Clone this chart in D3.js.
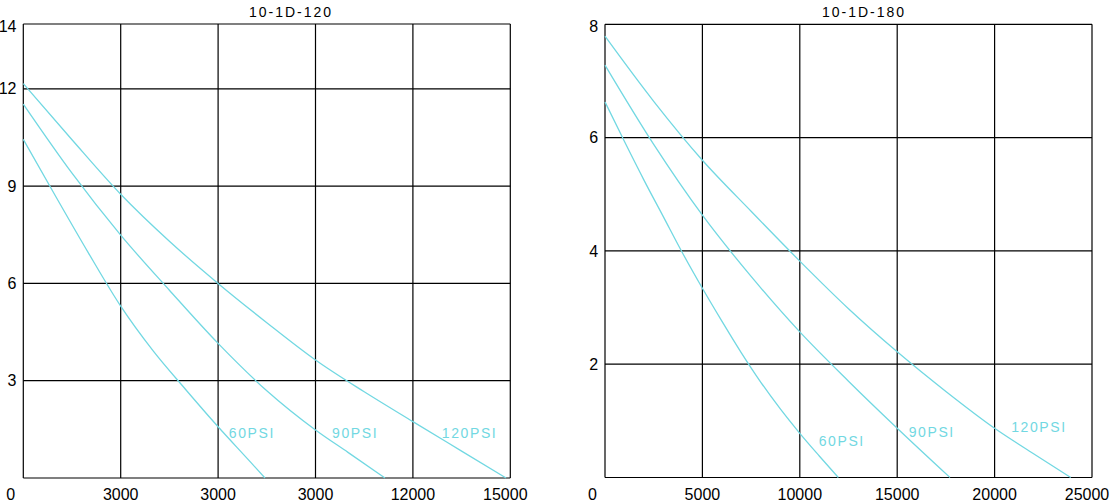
<!DOCTYPE html>
<html>
<head>
<meta charset="utf-8">
<script src="https://cdn.jsdelivr.net/npm/d3@7"></script>
<style>
  html, body { margin: 0; padding: 0; background: #fff; }
  svg { display: block; }
  text { font-family: "Liberation Sans", Arial, sans-serif; }
</style>
</head>
<body>
<svg id="chart" width="1110" height="503"></svg>
<script>
// ---------- DATA ----------
const seriesNames = ["60PSI", "90PSI", "120PSI"];

// Left chart: 10-1D-120
const leftTitle = "10-1D-120";
const leftXTicks = [0, 3000, 6000, 9000, 12000, 15000];
const leftXTickLabels = ["0", "3000", "3000", "3000", "12000", "15000"];
const leftYTicks = [3, 6, 9, 12, 14];
const leftYTickLabels = ["3", "6", "9", "12", "14"];
const leftFlow = {
  "60PSI":  [0, 1000, 2000, 3000, 4000, 5000, 6000, 7000, 7444],
  "90PSI":  [0, 1500, 3000, 4500, 6000, 7500, 9000, 10000, 11140],
  "120PSI": [0, 1500, 3000, 4500, 6000, 7500, 9000, 10500, 12000, 13500, 14870]
};
const leftValue = {
  "60PSI":  [10.44, 8.68, 6.95, 5.3, 3.92, 2.73, 1.58, 0.49, 0],
  "90PSI":  [11.53, 9.4, 7.49, 5.79, 4.15, 2.69, 1.48, 0.79, 0],
  "120PSI": [12.16, 10.43, 8.75, 7.3, 6.0, 4.79, 3.64, 2.66, 1.74, 0.83, 0]
};
const leftLabelX = [6330, 9510, 12890];
const leftLabelY = [1.24, 1.24, 1.24];

// Right chart: 10-1D-180
const rightTitle = "10-1D-180";
const rightXTicks = [0, 5000, 10000, 15000, 20000, 25000];
const rightXTickLabels = ["0", "5000", "10000", "15000", "20000", "25000"];
const rightYTicks = [2, 4, 6, 8];
const rightYTickLabels = ["2", "4", "6", "8"];
const rightFlow = {
  "60PSI":  [0, 1000, 2000, 3000, 4000, 5000, 6000, 7000, 8000, 9000, 10000, 11000, 11977],
  "90PSI":  [0, 2500, 5000, 7500, 10000, 12500, 15000, 17710],
  "120PSI": [0, 2500, 5000, 7500, 10000, 12500, 15000, 17500, 20000, 22000, 23907]
};
const rightValue = {
  "60PSI":  [6.63, 5.93, 5.25, 4.6, 3.95, 3.34, 2.76, 2.2, 1.68, 1.21, 0.78, 0.38, 0],
  "90PSI":  [7.28, 5.88, 4.63, 3.55, 2.57, 1.7, 0.87, 0],
  "120PSI": [7.79, 6.64, 5.6, 4.7, 3.82, 2.98, 2.22, 1.52, 0.87, 0.42, 0]
};
const rightLabelX = [10970, 15590, 20850];
const rightLabelY = [0.556, 0.72, 0.80];

// ---------- DRAW ----------
const svg = d3.select("#chart");
const curveColor = "#72d8e2";

function panel(cfg) {
  const g = svg.append("g");
  const x = d3.scaleLinear().domain(cfg.xDomain).range([cfg.x0, cfg.x1]);
  const y = d3.scaleLinear().domain(cfg.yDomain).range([cfg.y1, cfg.y0]);

  // grid
  g.selectAll("line.vg").data(cfg.xTicks).enter().append("line")
    .attr("x1", d => x(d)).attr("x2", d => x(d))
    .attr("y1", cfg.y0).attr("y2", cfg.y1)
    .attr("stroke", "#000").attr("stroke-width", 1.2);
  g.selectAll("line.hg").data(cfg.yTicks.concat([cfg.yDomain[0]])).enter().append("line")
    .attr("y1", d => y(d)).attr("y2", d => y(d))
    .attr("x1", cfg.x0).attr("x2", cfg.x1)
    .attr("stroke", "#000").attr("stroke-width", 1.2);

  // curves
  const line = d3.line().x(d => x(d[0])).y(d => y(d[1])).curve(d3.curveMonotoneX);
  seriesNames.forEach(name => {
    const pts = cfg.flow[name].map((f, i) => [f, cfg.value[name][i]]);
    g.append("path").datum(pts).attr("d", line)
      .attr("fill", "none").attr("stroke", curveColor).attr("stroke-width", 1.3);
  });

  // series labels
  seriesNames.forEach((name, i) => {
    g.append("text").attr("x", x(cfg.labelX[i])).attr("y", y(cfg.labelY[i]))
      .attr("fill", curveColor).attr("font-size", 14).attr("letter-spacing", 1.6)
      .text(name);
  });

  // x tick labels
  cfg.xTicks.forEach((t, i) => {
    let px = x(t);
    if (i === 0) px -= 12.5;
    if (i === cfg.xTicks.length - 1) px -= 5;
    g.append("text").attr("x", px).attr("y", 500)
      .attr("text-anchor", "middle").attr("font-size", 16).attr("fill", "#000")
      .text(cfg.xLabels[i]);
  });

  // y tick labels
  cfg.yTicks.forEach((t, i) => {
    let py = y(t);
    if (t === cfg.yDomain[1]) py += 2.5;
    g.append("text").attr("x", cfg.x0 - 6.8).attr("y", py).attr("dy", "0.35em")
      .attr("text-anchor", "end").attr("font-size", 16).attr("fill", "#000")
      .text(cfg.yLabels[i]);
  });

  // title
  g.append("text").attr("x", cfg.titleX).attr("y", 16.7)
    .attr("text-anchor", "middle").attr("font-size", 14).attr("letter-spacing", 2)
    .attr("fill", "#000").text(cfg.title);
}

panel({
  title: leftTitle, titleX: 291,
  x0: 23.3, x1: 510.3, y0: 24, y1: 478,
  xDomain: [0, 15000], yDomain: [0, 14],
  xTicks: leftXTicks, xLabels: leftXTickLabels,
  yTicks: leftYTicks, yLabels: leftYTickLabels,
  flow: leftFlow, value: leftValue,
  labelX: leftLabelX, labelY: leftLabelY
});

panel({
  title: rightTitle, titleX: 864,
  x0: 605, x1: 1092, y0: 24.3, y1: 477.5,
  xDomain: [0, 25000], yDomain: [0, 8],
  xTicks: rightXTicks, xLabels: rightXTickLabels,
  yTicks: rightYTicks, yLabels: rightYTickLabels,
  flow: rightFlow, value: rightValue,
  labelX: rightLabelX, labelY: rightLabelY
});
</script>
</body>
</html>
